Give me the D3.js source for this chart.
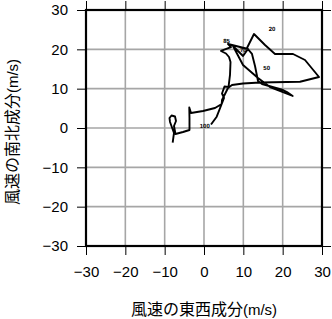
<!DOCTYPE html>
<html>
<head>
<meta charset="utf-8">
<script src="https://cdn.jsdelivr.net/npm/d3@7"></script>
<style>
html,body{margin:0;padding:0;background:#fff;}
svg{display:block;}
</style>
</head>
<body>
<svg id="chart" width="332" height="319"></svg>
<script>
// Hodograph: east-west (u) and north-south (v) wind components, m/s
const uValues = [1.78,3.23,4.50,5.09,4.58,5.21,6.23,6.61,6.74,6.36,5.59,4.32,6.86,6.10,11.19,9.92,7.37,9.92,13.73,16.78,22.55,21.10,20.09,14.75,13.73,12.97,12.20,10.93,12.71,15.51,18.05,22.63,25.68,29.24,24.41,14.24,9.92,7.12,6.10,4.58,4.50,2.80,-0.25,-3.31,-3.74,-3.69,-3.69,-5.34,-7.25,-7.63,-7.12,-7.37,-8.26,-8.77,-8.64,-7.63,-7.96];
const vValues = [0.89,2.87,6.10,7.63,8.77,10.55,10.42,13.48,16.78,18.05,18.94,19.58,20.59,21.36,20.09,18.31,20.85,16.02,12.71,10.42,8.14,9.15,9.66,11.19,11.95,15.76,18.82,20.34,23.90,21.10,18.82,18.82,17.29,12.97,11.77,11.57,11.31,10.93,10.17,7.12,6.10,5.09,4.32,3.81,5.21,2.54,-0.51,-1.02,-1.53,0.51,1.78,2.92,3.18,2.54,1.53,-1.27,-3.74];
const levelLabels = ["100","85","70","50","20"];
const labelU = [0.2,5.72,10.0,15.94,17.29];
const labelV = [0.64,22.17,19.83,15.33,25.17];
const tickValues = [-30,-20,-10,0,10,20,30];
const xTitle = "風速の東西成分";
const yTitle = "風速の南北成分";
const unitText = "(m/s)";

const svg = d3.select("#chart");
const x = d3.scaleLinear().domain([-30,30]).range([86,322]);
const y = d3.scaleLinear().domain([-30,30]).range([246,10]);
const font = "'Liberation Sans', Arial, 'Noto Sans CJK JP', sans-serif";

// grid
const g = svg.append("g");
g.selectAll("line.gx").data(tickValues).join("line")
  .attr("x1", d=>x(d)).attr("x2", d=>x(d)).attr("y1", y(-30)).attr("y2", y(30))
  .attr("stroke", "#a6a6a6").attr("stroke-width", 1.6);
g.selectAll("line.gy").data(tickValues).join("line")
  .attr("y1", d=>y(d)).attr("y2", d=>y(d)).attr("x1", x(-30)).attr("x2", x(30))
  .attr("stroke", "#a6a6a6").attr("stroke-width", 1.6);

// hodograph line
const pts = uValues.map((u,i)=>[u, vValues[i]]);
svg.append("path")
  .attr("d", d3.line().x(d=>x(d[0])).y(d=>y(d[1]))(pts))
  .attr("fill","none").attr("stroke","#000").attr("stroke-width",1.9)
  .attr("stroke-linejoin","round");

// level labels
svg.selectAll("text.lvl").data(levelLabels).join("text")
  .attr("x",(d,i)=>x(labelU[i])).attr("y",(d,i)=>y(labelV[i]))
  .attr("dy","0.35em").attr("text-anchor","middle")
  .attr("font-family",font).attr("font-size",6).attr("font-weight","bold")
  .attr("fill","#000").style("text-rendering","geometricPrecision")
  .text(d=>d);

// axes
function styleAxis(sel){
  sel.select(".domain").remove();
  sel.selectAll(".tick line").attr("stroke","#000").attr("stroke-width",1);
  sel.selectAll("text").attr("font-family",font).attr("font-size",15).attr("fill","#000");
}
svg.append("g").attr("transform",`translate(0,${y(-30)})`)
  .call(d3.axisBottom(x).tickValues(tickValues).tickSize(9).tickPadding(11))
  .call(styleAxis);
svg.append("g").attr("transform",`translate(${x(-30)},0)`)
  .call(d3.axisLeft(y).tickValues(tickValues).tickSize(9).tickPadding(9))
  .call(styleAxis);
svg.append("g").attr("transform",`translate(0,${y(30)})`)
  .call(d3.axisTop(x).tickValues(tickValues).tickSize(9).tickFormat(""))
  .call(styleAxis);
svg.append("g").attr("transform",`translate(${x(30)},0)`)
  .call(d3.axisRight(y).tickValues(tickValues).tickSize(9).tickFormat(""))
  .call(styleAxis);

// frame
svg.append("rect").attr("x",x(-30)).attr("y",y(30))
  .attr("width",x(30)-x(-30)).attr("height",y(-30)-y(30))
  .attr("fill","none").attr("stroke","#000").attr("stroke-width",2.2);

// titles
const xt = svg.append("text").attr("x",(x(-30)+x(30))/2).attr("y",315)
  .attr("text-anchor","middle").attr("font-family",font).attr("fill","#000");
xt.append("tspan").attr("font-size",16).attr("font-family","'Noto Sans CJK JP', sans-serif").text(xTitle);
xt.append("tspan").attr("font-size",15).text(unitText);

const yt = svg.append("text").attr("transform",`translate(18,132) rotate(-90)`)
  .attr("text-anchor","middle").attr("font-family",font).attr("fill","#000");
yt.append("tspan").attr("font-size",16).attr("font-family","'Noto Sans CJK JP', sans-serif").text(yTitle);
yt.append("tspan").attr("font-size",15).text(unitText);
</script>
</body>
</html>
